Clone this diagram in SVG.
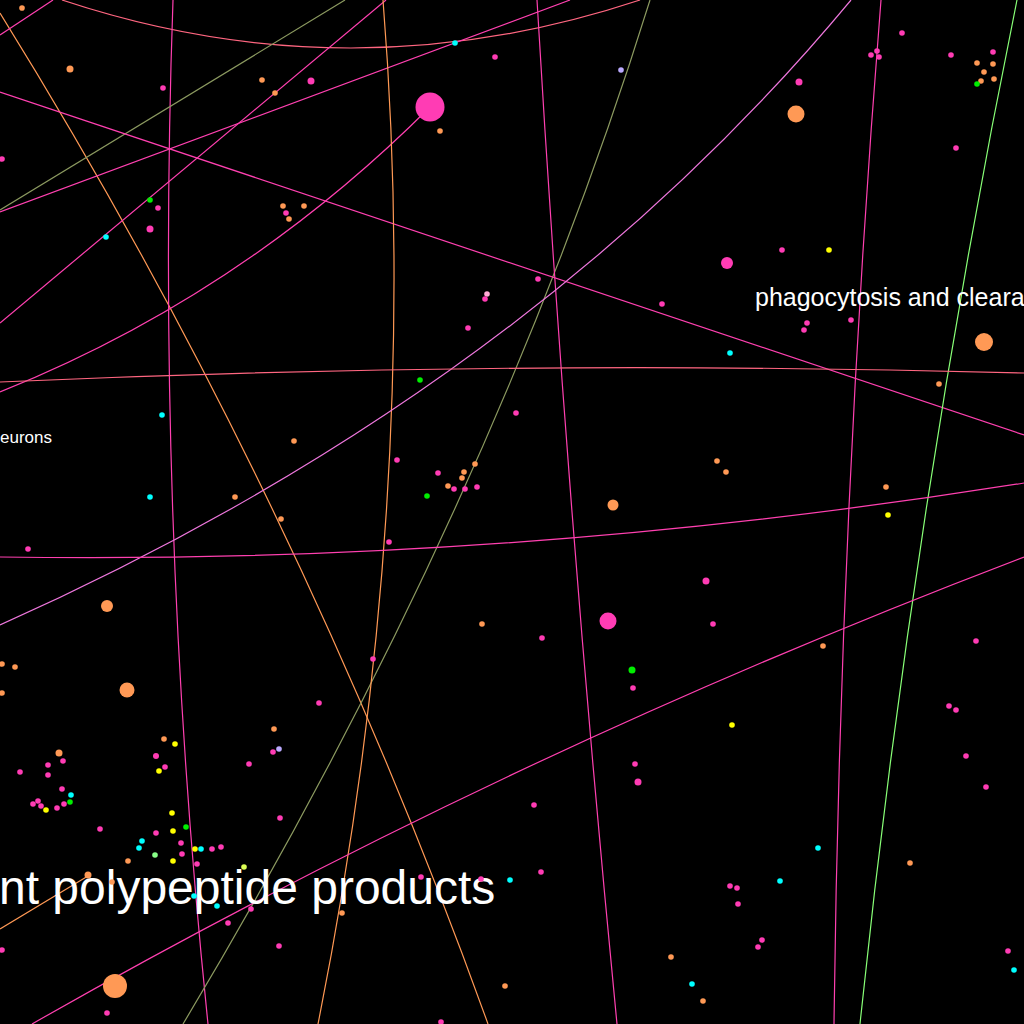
<svg xmlns="http://www.w3.org/2000/svg" width="1024" height="1024" viewBox="0 0 1024 1024">
<style>
.e{fill:none;stroke-width:1.2}
.hp{stroke:#ff40b0}.sa{stroke:#ff6680}.or{stroke:#ff9955}.ol{stroke:#8c9a60}.lv{stroke:#ee77dd}.gr{stroke:#88ff77}
.p{fill:#ff3cb4}.o{fill:#ff9955}.c{fill:#00ffff}.g{fill:#00ee00}.y{fill:#ffff00}.l{fill:#bbaaff}.lp{fill:#ffaad4}.lg{fill:#88ff88}.yg{fill:#ddff55}
text{font-family:"Liberation Sans",Arial,sans-serif;fill:#ffffff}
</style>
<rect width="1024" height="1024" fill="#000"/>
<g id="edges">
<path class="e sa" d="M62,0 Q351,96 640,0"/>
<path class="e or" d="M0,13 Q296,490 488,1024"/>
<path class="e hp" d="M173,0 Q155,512 208,1024"/>
<path class="e ol" d="M0,210 L345,0"/>
<path class="e ol" d="M650,0 Q492,508 183,1024"/>
<path class="e hp" d="M0,92 L1024,435"/>
<path class="e hp" d="M0,212 L570,0"/>
<path class="e hp" d="M0,323 L386,0"/>
<path class="e hp" d="M0,392 Q242,295 430,107"/>
<path class="e or" d="M383,0 Q423,499 318,1024"/>
<path class="e hp" d="M537,0 Q567,512 617,1024"/>
<path class="e lv" d="M851,0 Q528,389 0,625"/>
<path class="e hp" d="M881,0 Q840,512 834,1024"/>
<path class="e gr" d="M1017,0 Q913,512 860,1024"/>
<path class="e sa" d="M0,382 Q512,359 1024,373"/>
<path class="e hp" d="M0,557 Q512,565 1024,483"/>
<path class="e hp" d="M32,1024 Q506,754 1024,557"/>
<path class="e or" d="M0,929 L88,876"/>
<path class="e hp" d="M0,35 L53,0"/>
</g>
<g id="labels">
<text x="755" y="306" font-size="25">phagocytosis and cleara</text>
<text x="52" y="443" font-size="17" text-anchor="end">eurons</text>
<text x="-1" y="904" font-size="48">nt polypeptide products</text>
</g>
<g id="nodes">
<g id="n1" class="o"><circle cx="22" cy="8" r="2.8"/></g>
<g id="n2" class="o"><circle cx="70" cy="69" r="3.5"/></g>
<g id="n3" class="p"><circle cx="163" cy="88" r="2.8"/></g>
<g id="n4" class="o"><circle cx="262" cy="80" r="2.8"/></g>
<g id="n5" class="o"><circle cx="275" cy="93" r="2.8"/></g>
<g id="n6" class="p"><circle cx="311" cy="81" r="3.5"/></g>
<g id="n7" class="p"><circle cx="2" cy="159" r="2.8"/></g>
<g id="n8" class="g"><circle cx="150" cy="200" r="2.8"/></g>
<g id="n9" class="p"><circle cx="158" cy="208" r="2.8"/></g>
<g id="n10" class="p"><circle cx="150" cy="229" r="3.5"/></g>
<g id="n11" class="c"><circle cx="106" cy="237" r="2.8"/></g>
<g id="n12" class="o"><circle cx="283" cy="206" r="2.8"/></g>
<g id="n13" class="o"><circle cx="304" cy="206" r="2.8"/></g>
<g id="n14" class="p"><circle cx="286" cy="213" r="2.8"/></g>
<g id="n15" class="o"><circle cx="289" cy="219" r="2.8"/></g>
<g id="n16" class="c"><circle cx="455" cy="43" r="2.8"/></g>
<g id="n17" class="p"><circle cx="495" cy="57" r="2.8"/></g>
<g id="n18" class="l"><circle cx="621" cy="70" r="2.8"/></g>
<g id="n19" class="p"><circle cx="430" cy="107" r="14.5"/></g>
<g id="n20" class="o"><circle cx="440" cy="131" r="2.8"/></g>
<g id="n21" class="p"><circle cx="538" cy="279" r="2.8"/></g>
<g id="n22" class="lp"><circle cx="487" cy="294" r="2.8"/></g>
<g id="n23" class="p"><circle cx="485" cy="299" r="2.8"/></g>
<g id="n24" class="p"><circle cx="468" cy="328" r="2.8"/></g>
<g id="n25" class="p"><circle cx="662" cy="304" r="2.8"/></g>
<g id="n26" class="p"><circle cx="902" cy="33" r="2.8"/></g>
<g id="n27" class="p"><circle cx="877" cy="51" r="2.8"/></g>
<g id="n28" class="p"><circle cx="871" cy="55" r="2.8"/></g>
<g id="n29" class="p"><circle cx="879" cy="57" r="2.8"/></g>
<g id="n30" class="p"><circle cx="951" cy="55" r="2.8"/></g>
<g id="n31" class="p"><circle cx="993" cy="52" r="2.8"/></g>
<g id="n32" class="o"><circle cx="977" cy="63" r="2.8"/></g>
<g id="n33" class="o"><circle cx="993" cy="64" r="2.8"/></g>
<g id="n34" class="o"><circle cx="984" cy="72" r="2.8"/></g>
<g id="n35" class="o"><circle cx="981" cy="81" r="2.8"/></g>
<g id="n36" class="o"><circle cx="994" cy="79" r="2.8"/></g>
<g id="n37" class="g"><circle cx="977" cy="84" r="2.8"/></g>
<g id="n38" class="p"><circle cx="799" cy="82" r="3.5"/></g>
<g id="n39" class="o"><circle cx="796" cy="114" r="8.5"/></g>
<g id="n40" class="p"><circle cx="956" cy="148" r="2.8"/></g>
<g id="n41" class="p"><circle cx="782" cy="250" r="2.8"/></g>
<g id="n42" class="y"><circle cx="829" cy="250" r="2.8"/></g>
<g id="n43" class="p"><circle cx="727" cy="263" r="6"/></g>
<g id="n44" class="p"><circle cx="807" cy="323" r="2.8"/></g>
<g id="n45" class="p"><circle cx="804" cy="330" r="2.8"/></g>
<g id="n46" class="p"><circle cx="851" cy="320" r="2.8"/></g>
<g id="n47" class="o"><circle cx="984" cy="342" r="9"/></g>
<g id="n48" class="c"><circle cx="162" cy="415" r="2.8"/></g>
<g id="n49" class="c"><circle cx="150" cy="497" r="2.8"/></g>
<g id="n50" class="o"><circle cx="294" cy="441" r="2.8"/></g>
<g id="n51" class="o"><circle cx="235" cy="497" r="2.8"/></g>
<g id="n52" class="o"><circle cx="281" cy="519" r="2.8"/></g>
<g id="n53" class="p"><circle cx="28" cy="549" r="2.8"/></g>
<g id="n54" class="o"><circle cx="107" cy="606" r="6"/></g>
<g id="n55" class="o"><circle cx="2" cy="664" r="2.8"/></g>
<g id="n56" class="o"><circle cx="15" cy="667" r="2.8"/></g>
<g id="n57" class="g"><circle cx="420" cy="380" r="2.8"/></g>
<g id="n58" class="p"><circle cx="516" cy="413" r="2.8"/></g>
<g id="n59" class="p"><circle cx="397" cy="460" r="2.8"/></g>
<g id="n60" class="p"><circle cx="438" cy="473" r="2.8"/></g>
<g id="n61" class="o"><circle cx="475" cy="464" r="2.8"/></g>
<g id="n62" class="o"><circle cx="464" cy="472" r="2.8"/></g>
<g id="n63" class="o"><circle cx="462" cy="478" r="2.8"/></g>
<g id="n64" class="o"><circle cx="448" cy="486" r="2.8"/></g>
<g id="n65" class="p"><circle cx="454" cy="489" r="2.8"/></g>
<g id="n66" class="p"><circle cx="465" cy="489" r="2.8"/></g>
<g id="n67" class="p"><circle cx="477" cy="487" r="2.8"/></g>
<g id="n68" class="g"><circle cx="427" cy="496" r="2.8"/></g>
<g id="n69" class="o"><circle cx="613" cy="505" r="5.5"/></g>
<g id="n70" class="p"><circle cx="389" cy="542" r="2.8"/></g>
<g id="n71" class="o"><circle cx="482" cy="624" r="2.8"/></g>
<g id="n72" class="p"><circle cx="542" cy="638" r="2.8"/></g>
<g id="n73" class="p"><circle cx="608" cy="621" r="8.5"/></g>
<g id="n74" class="g"><circle cx="632" cy="670" r="3.5"/></g>
<g id="n75" class="p"><circle cx="373" cy="659" r="2.8"/></g>
<g id="n76" class="c"><circle cx="730" cy="353" r="2.8"/></g>
<g id="n77" class="o"><circle cx="939" cy="384" r="2.8"/></g>
<g id="n78" class="o"><circle cx="717" cy="461" r="2.8"/></g>
<g id="n79" class="o"><circle cx="726" cy="472" r="2.8"/></g>
<g id="n80" class="o"><circle cx="886" cy="487" r="2.8"/></g>
<g id="n81" class="y"><circle cx="888" cy="515" r="2.8"/></g>
<g id="n82" class="p"><circle cx="706" cy="581" r="3.5"/></g>
<g id="n83" class="p"><circle cx="713" cy="624" r="2.8"/></g>
<g id="n84" class="o"><circle cx="823" cy="646" r="2.8"/></g>
<g id="n85" class="p"><circle cx="976" cy="641" r="2.8"/></g>
<g id="n86" class="o"><circle cx="2" cy="693" r="2.8"/></g>
<g id="n87" class="o"><circle cx="127" cy="690" r="7.5"/></g>
<g id="n88" class="p"><circle cx="319" cy="703" r="2.8"/></g>
<g id="n89" class="o"><circle cx="59" cy="753" r="3.5"/></g>
<g id="n90" class="p"><circle cx="63" cy="761" r="2.8"/></g>
<g id="n91" class="p"><circle cx="48" cy="765" r="2.8"/></g>
<g id="n92" class="p"><circle cx="20" cy="772" r="2.8"/></g>
<g id="n93" class="p"><circle cx="48" cy="775" r="2.8"/></g>
<g id="n94" class="p"><circle cx="62" cy="789" r="2.8"/></g>
<g id="n95" class="c"><circle cx="71" cy="795" r="2.8"/></g>
<g id="n96" class="g"><circle cx="70" cy="802" r="2.8"/></g>
<g id="n97" class="p"><circle cx="33" cy="804" r="2.8"/></g>
<g id="n98" class="p"><circle cx="38" cy="801" r="2.8"/></g>
<g id="n99" class="p"><circle cx="41" cy="806" r="2.8"/></g>
<g id="n100" class="y"><circle cx="46" cy="810" r="2.8"/></g>
<g id="n101" class="p"><circle cx="57" cy="808" r="2.8"/></g>
<g id="n102" class="p"><circle cx="64" cy="804" r="2.8"/></g>
<g id="n103" class="o"><circle cx="164" cy="739" r="2.8"/></g>
<g id="n104" class="y"><circle cx="175" cy="744" r="2.8"/></g>
<g id="n105" class="p"><circle cx="156" cy="756" r="3"/></g>
<g id="n106" class="p"><circle cx="165" cy="767" r="2.8"/></g>
<g id="n107" class="y"><circle cx="159" cy="771" r="2.8"/></g>
<g id="n108" class="o"><circle cx="274" cy="729" r="2.8"/></g>
<g id="n109" class="l"><circle cx="279" cy="749" r="2.8"/></g>
<g id="n110" class="p"><circle cx="273" cy="752" r="2.8"/></g>
<g id="n111" class="p"><circle cx="249" cy="764" r="2.8"/></g>
<g id="n112" class="p"><circle cx="280" cy="818" r="2.8"/></g>
<g id="n113" class="p"><circle cx="100" cy="829" r="2.8"/></g>
<g id="n114" class="y"><circle cx="172" cy="813" r="2.8"/></g>
<g id="n115" class="y"><circle cx="173" cy="831" r="2.8"/></g>
<g id="n116" class="g"><circle cx="186" cy="827" r="2.8"/></g>
<g id="n117" class="p"><circle cx="156" cy="833" r="2.8"/></g>
<g id="n118" class="c"><circle cx="142" cy="841" r="2.8"/></g>
<g id="n119" class="c"><circle cx="139" cy="848" r="2.8"/></g>
<g id="n120" class="p"><circle cx="181" cy="843" r="2.8"/></g>
<g id="n121" class="p"><circle cx="182" cy="854" r="2.8"/></g>
<g id="n122" class="lg"><circle cx="155" cy="855" r="2.8"/></g>
<g id="n123" class="y"><circle cx="173" cy="861" r="2.8"/></g>
<g id="n124" class="y"><circle cx="195" cy="849" r="2.8"/></g>
<g id="n125" class="c"><circle cx="201" cy="849" r="2.8"/></g>
<g id="n126" class="p"><circle cx="212" cy="849" r="2.8"/></g>
<g id="n127" class="p"><circle cx="221" cy="847" r="2.8"/></g>
<g id="n128" class="p"><circle cx="197" cy="864" r="2.8"/></g>
<g id="n129" class="o"><circle cx="128" cy="861" r="2.8"/></g>
<g id="n130" class="yg"><circle cx="244" cy="867" r="2.8"/></g>
<g id="n131" class="o"><circle cx="88" cy="875" r="3.5"/></g>
<g id="n132" class="o"><circle cx="112" cy="882" r="2.8"/></g>
<g id="n133" class="c"><circle cx="194" cy="896" r="2.8"/></g>
<g id="n134" class="c"><circle cx="217" cy="906" r="2.8"/></g>
<g id="n135" class="p"><circle cx="251" cy="909" r="2.8"/></g>
<g id="n136" class="p"><circle cx="228" cy="923" r="2.8"/></g>
<g id="n137" class="p"><circle cx="2" cy="950" r="2.8"/></g>
<g id="n138" class="p"><circle cx="279" cy="946" r="2.8"/></g>
<g id="n139" class="o"><circle cx="115" cy="986" r="12"/></g>
<g id="n140" class="p"><circle cx="107" cy="1013" r="2.8"/></g>
<g id="n141" class="p"><circle cx="633" cy="688" r="2.8"/></g>
<g id="n142" class="p"><circle cx="635" cy="764" r="2.8"/></g>
<g id="n143" class="p"><circle cx="638" cy="782" r="3.5"/></g>
<g id="n144" class="p"><circle cx="534" cy="805" r="2.8"/></g>
<g id="n145" class="p"><circle cx="541" cy="872" r="2.8"/></g>
<g id="n146" class="c"><circle cx="510" cy="880" r="2.8"/></g>
<g id="n147" class="p"><circle cx="421" cy="877" r="2.8"/></g>
<g id="n148" class="p"><circle cx="481" cy="879" r="2.8"/></g>
<g id="n149" class="o"><circle cx="342" cy="913" r="2.8"/></g>
<g id="n150" class="o"><circle cx="671" cy="957" r="2.8"/></g>
<g id="n151" class="o"><circle cx="505" cy="986" r="2.8"/></g>
<g id="n152" class="p"><circle cx="441" cy="1022" r="2.8"/></g>
<g id="n153" class="y"><circle cx="732" cy="725" r="2.8"/></g>
<g id="n154" class="p"><circle cx="949" cy="706" r="2.8"/></g>
<g id="n155" class="p"><circle cx="956" cy="710" r="2.8"/></g>
<g id="n156" class="p"><circle cx="966" cy="756" r="2.8"/></g>
<g id="n157" class="p"><circle cx="986" cy="787" r="2.8"/></g>
<g id="n158" class="c"><circle cx="818" cy="848" r="2.8"/></g>
<g id="n159" class="c"><circle cx="780" cy="881" r="2.8"/></g>
<g id="n160" class="p"><circle cx="730" cy="886" r="2.8"/></g>
<g id="n161" class="p"><circle cx="737" cy="888" r="2.8"/></g>
<g id="n162" class="p"><circle cx="738" cy="904" r="2.8"/></g>
<g id="n163" class="p"><circle cx="762" cy="940" r="2.8"/></g>
<g id="n164" class="p"><circle cx="758" cy="947" r="2.8"/></g>
<g id="n165" class="c"><circle cx="692" cy="984" r="2.8"/></g>
<g id="n166" class="o"><circle cx="703" cy="1001" r="2.8"/></g>
<g id="n167" class="o"><circle cx="910" cy="863" r="2.8"/></g>
<g id="n168" class="p"><circle cx="1008" cy="951" r="2.8"/></g>
<g id="n169" class="c"><circle cx="1014" cy="970" r="2.8"/></g>
</g>
</svg>
